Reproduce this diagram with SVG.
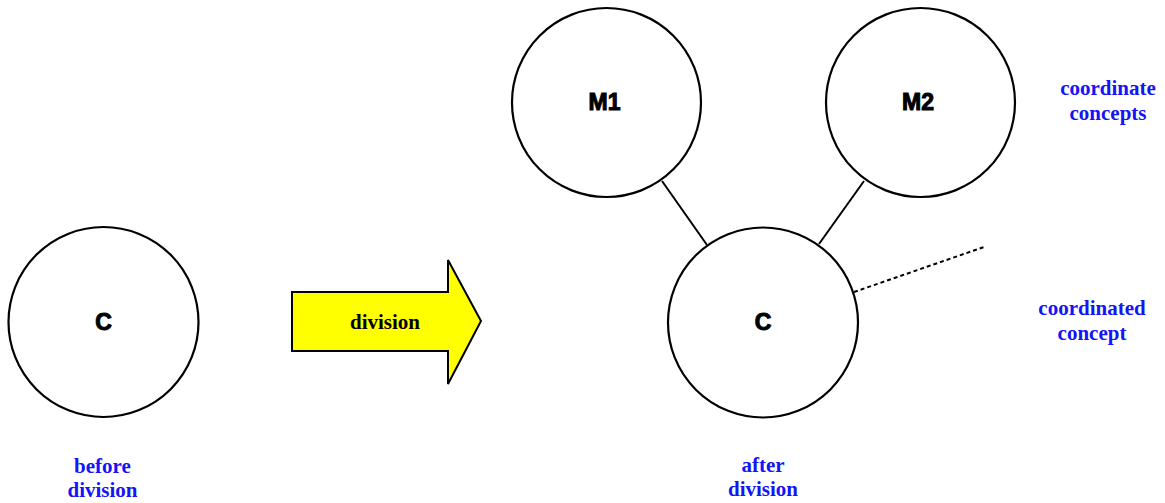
<svg xmlns="http://www.w3.org/2000/svg" width="1165" height="503" viewBox="0 0 1165 503">
<style>
.node{fill:#fff;stroke:#000;stroke-width:2.2}
.nl{font-family:"Liberation Sans",Arial,sans-serif;font-weight:bold;font-size:23px;fill:#000;stroke:#000;stroke-width:1;text-anchor:middle}
.lab{font-family:"Liberation Serif","Times New Roman",serif;font-weight:bold;font-size:21px;fill:#1414f5;text-anchor:middle}
.conn{stroke:#000;stroke-width:2;fill:none}
.dot{stroke:#000;stroke-width:2;fill:none;stroke-dasharray:4 3}
</style>
<rect width="1165" height="503" fill="#fff"/>
<g id="connectors">
<line class="conn" x1="662" y1="181" x2="707" y2="245"/>
<line class="conn" x1="864" y1="181" x2="819" y2="244"/>
<line class="dot" x1="854" y1="292" x2="984" y2="247"/>
</g>
<g id="c-before">
<circle class="node" cx="103.5" cy="322" r="95"/>
<text class="nl" x="103.5" y="330">C</text>
</g>
<g id="division-arrow">
<polygon points="292,292 448,292 448,260 481,321 448,384 448,351 292,351" fill="#ffff00" stroke="#000" stroke-width="2" stroke-linejoin="miter"/>
<text x="385" y="329" font-family="'Liberation Serif','Times New Roman',serif" font-weight="bold" font-size="21" fill="#000" text-anchor="middle">division</text>
</g>
<g id="m1">
<circle class="node" cx="606.5" cy="102.5" r="94.5"/>
<text class="nl" x="604.5" y="110">M1</text>
</g>
<g id="m2">
<circle class="node" cx="920.5" cy="102.5" r="94.5"/>
<text class="nl" x="918" y="110">M2</text>
</g>
<g id="c-after">
<circle class="node" cx="763" cy="322.5" r="95"/>
<text class="nl" x="763" y="330">C</text>
</g>
<g id="labels">
<text class="lab" x="1108" y="95">coordinate</text>
<text class="lab" x="1108" y="120">concepts</text>
<text class="lab" x="1092" y="315">coordinated</text>
<text class="lab" x="1092" y="340">concept</text>
<text class="lab" x="102.5" y="473">before</text>
<text class="lab" x="102.5" y="497">division</text>
<text class="lab" x="763" y="472">after</text>
<text class="lab" x="763" y="496">division</text>
</g>
</svg>
